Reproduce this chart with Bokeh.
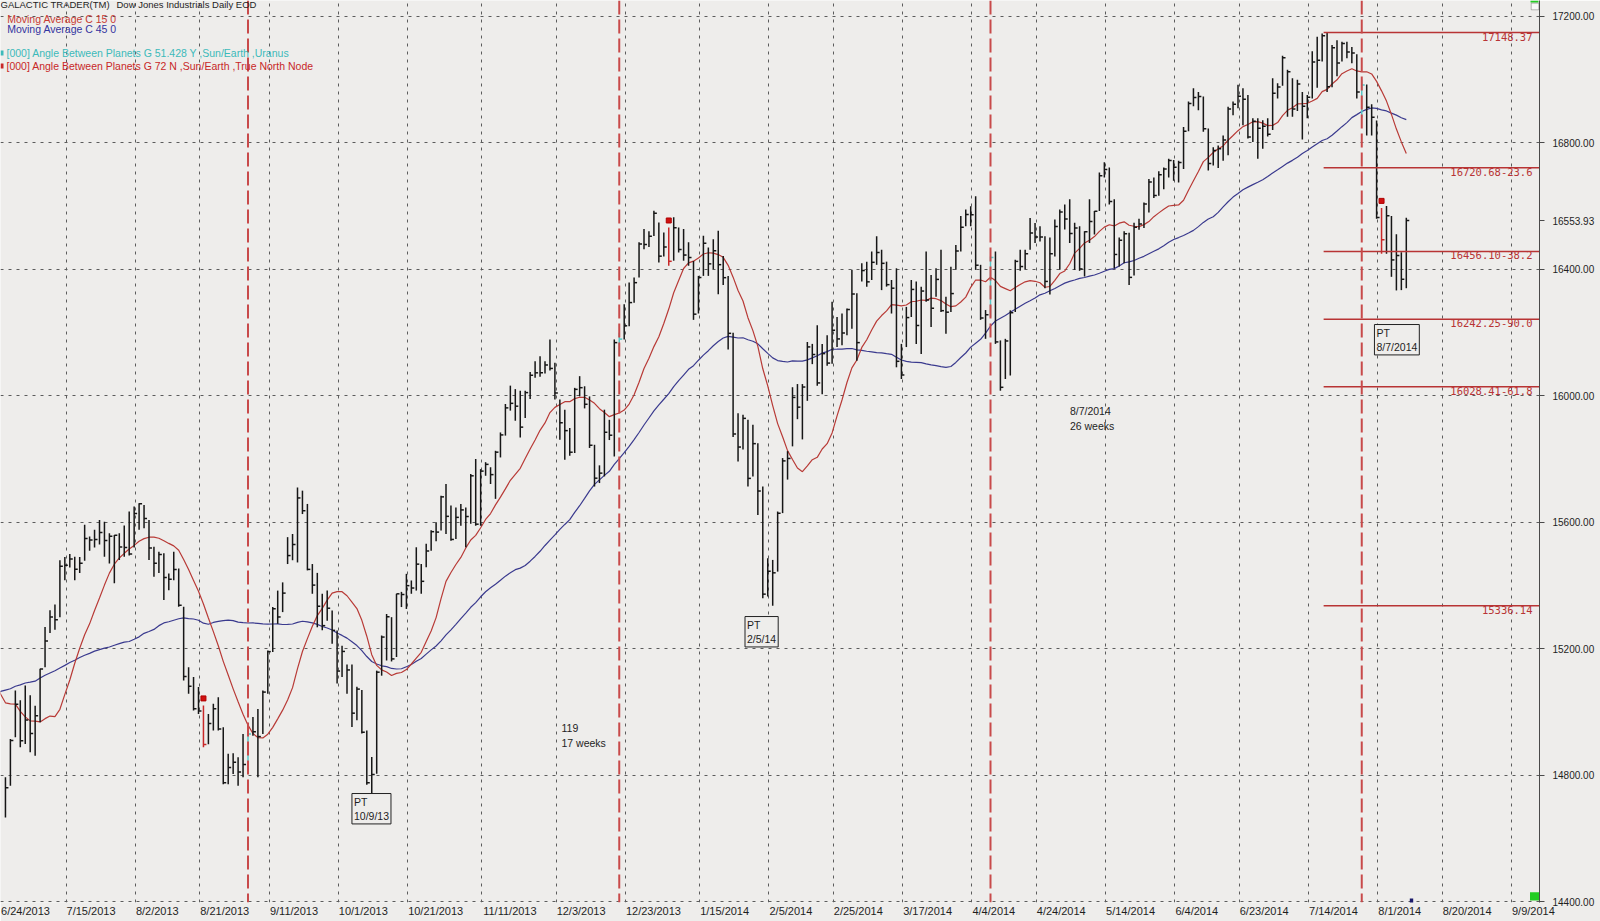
import numpy as np
import pandas as pd
from bokeh.plotting import figure
from bokeh.models import (ColumnDataSource, FixedTicker, Span, Label, Range1d,
                          BoxAnnotation, PrintfTickFormatter)
from bokeh.core.properties import value
from bokeh.embed import file_html
from bokeh.resources import INLINE

# ---------------- texts ----------------
title_left = "GALACTIC TRADER(TM)"
title_right = "Dow Jones Industrials Daily EOD"
legend_ma15 = "Moving Average C 15 0"
legend_ma45 = "Moving Average C 45 0"
legend_cyan = "[000] Angle Between Planets G 51.428 Y ,Sun/Earth ,Uranus"
legend_red = "[000] Angle Between Planets G 72 N ,Sun/Earth ,True North Node"

# ---------------- calendar ----------------
first_bar_date = "2013-06-25"
last_bar_date = "2014-08-08"
market_holidays = ["2013-07-04", "2013-09-02", "2013-11-28", "2013-12-25", "2014-01-01",
                   "2014-01-20", "2014-02-17", "2014-04-18", "2014-05-26", "2014-07-04"]

# closes before the first visible bar (2013-04-18 .. 2013-06-24), used by the moving averages
prior_close = [14537.14, 14547.51, 14567.17, 14719.46, 14676.30, 14700.80, 14712.55, 14818.75,
               14839.80, 14700.95, 14831.58, 14973.96, 14968.89, 15056.20, 15105.12, 15082.62,
               15118.49, 15091.68, 15215.25, 15275.69, 15233.22, 15354.40, 15335.28, 15387.58,
               15307.17, 15294.50, 15303.10, 15409.39, 15302.80, 15324.53, 15115.57, 15254.03,
               15177.54, 14960.59, 15040.62, 15248.12, 15238.59, 15122.02, 14995.23, 15176.08,
               15070.18, 15179.85, 15318.23, 15112.19, 14758.32, 14799.40, 14659.56]

# ---------------- daily bars 2013-06-25 .. 2013-12-31 ----------------
high_2013 = [14794, 14915, 15068, 15037, 15084, 15053, 15020, 15137, 15269, 15322, 15340, 15480, 15490,
             15500, 15491, 15490, 15592, 15555, 15576, 15607, 15602, 15565, 15560, 15565, 15590, 15634,
             15650, 15660, 15655, 15607, 15523, 15507, 15502, 15438, 15507, 15454, 15333, 15142, 15111,
             15079, 15021, 14994, 15026, 15047, 14952, 14868, 14870, 14857, 14931, 14942, 14984, 15010,
             15068, 15195, 15332, 15384, 15410, 15553, 15563, 15710, 15700, 15658, 15468, 15440, 15374,
             15384, 15321, 15258, 15210, 15150, 15150, 15080, 15070, 14942, 14858, 15131, 15242, 15310,
             15300, 15374, 15380, 15437, 15416, 15521, 15468, 15532, 15575, 15600, 15684, 15721, 15653,
             15647, 15658, 15647, 15753, 15800, 15768, 15790, 15774, 15826, 15884, 15974, 16032, 16021,
             16016, 16016, 16075, 16109, 16125, 16109, 16178, 16104, 15988, 15956, 15898, 16025, 16062,
             16030, 15998, 15845, 15780, 15956, 15924, 16178, 16199, 16289, 16358, 16374, 16485, 16527,
             16520, 16585]
low_2013 = [14667, 14767, 14920, 14889, 14899, 14873, 14862, 14968, 15142, 15250, 15260, 15300, 15417,
            15457, 15417, 15440, 15478, 15510, 15520, 15530, 15491, 15470, 15407, 15481, 15491, 15495,
            15520, 15576, 15581, 15481, 15428, 15440, 15354, 15385, 15417, 15333, 15100, 15058, 15005,
            14994, 14889, 14898, 14942, 14942, 14772, 14772, 14804, 14767, 14794, 14804, 14925, 14794,
            14931, 15058, 15190, 15279, 15316, 15468, 15480, 15473, 15626, 15448, 15374, 15268, 15259,
            15289, 15216, 15090, 15111, 15058, 14953, 14974, 14932, 14770, 14726, 14805, 15115, 15163,
            15160, 15174, 15332, 15326, 15374, 15384, 15374, 15458, 15510, 15540, 15574, 15563, 15542,
            15547, 15589, 15521, 15595, 15589, 15589, 15747, 15721, 15674, 15805, 15874, 15953, 15921,
            15868, 15930, 15990, 16057, 16060, 16070, 16080, 15988, 15861, 15798, 15810, 15819, 15998,
            15960, 15835, 15713, 15724, 15745, 15860, 15808, 16125, 16178, 16220, 16294, 16374, 16463,
            16470, 16505]
close_2013 = [14760.31, 14910.14, 15024.49, 14909.60, 14974.96, 14932.41, 14988.55, 15135.84, 15224.69,
              15300.34, 15291.66, 15460.92, 15464.30, 15484.26, 15451.85, 15470.52, 15548.54, 15543.74,
              15545.55, 15567.74, 15542.24, 15555.61, 15558.83, 15521.97, 15520.59, 15499.54, 15628.02,
              15658.36, 15612.13, 15518.74, 15470.67, 15498.32, 15425.51, 15419.68, 15451.01, 15337.66,
              15112.19, 15081.47, 15010.74, 15002.99, 14897.55, 14963.74, 15010.51, 14946.46, 14776.13,
              14824.51, 14840.95, 14810.31, 14833.96, 14930.87, 14937.48, 14922.50, 15063.12, 15191.06,
              15326.60, 15300.64, 15376.06, 15494.78, 15529.73, 15676.94, 15636.55, 15451.09, 15401.38,
              15334.59, 15273.26, 15328.30, 15258.24, 15129.67, 15191.70, 15133.14, 14996.48, 15072.58,
              14936.24, 14776.53, 14802.98, 15126.07, 15237.11, 15301.26, 15168.01, 15373.83, 15371.65,
              15399.65, 15392.20, 15467.66, 15413.33, 15509.21, 15570.28, 15568.93, 15680.35, 15618.76,
              15545.75, 15615.55, 15639.12, 15618.22, 15746.88, 15593.98, 15761.78, 15783.10, 15750.67,
              15821.63, 15876.22, 15961.70, 15976.02, 15967.03, 15900.82, 16009.99, 16064.77, 16072.54,
              16072.80, 16097.33, 16086.41, 16008.77, 15914.62, 15889.77, 15821.51, 16020.20, 16025.53,
              15973.13, 15843.53, 15739.43, 15755.36, 15884.57, 15875.26, 16167.97, 16179.08, 16221.14,
              16294.61, 16357.55, 16479.88, 16478.41, 16504.29, 16576.66]

# ---------------- daily bars 2014-01-02 .. 2014-08-08 ----------------
high_2014 = [16548, 16516, 16532, 16564, 16532, 16527, 16485, 16426, 16379, 16506, 16469, 16495, 16522,
             16442, 16379, 16199, 15945, 15940, 15924, 15908, 15850, 15713, 15486, 15481, 15634, 15803,
             15825, 16027, 16037, 16037, 16170, 16164, 16223, 16164, 16191, 16297, 16249, 16260, 16276,
             16398, 16324, 16419, 16424, 16456, 16504, 16462, 16424, 16366, 16403, 16164, 16281, 16366,
             16361, 16345, 16456, 16382, 16403, 16462, 16313, 16408, 16477, 16568, 16589, 16599, 16631,
             16414, 16271, 16440, 16456, 16175, 16180, 16270, 16430, 16462, 16462, 16562, 16546, 16536,
             16504, 16500, 16557, 16589, 16605, 16621, 16547, 16536, 16520, 16621, 16584, 16706, 16738,
             16722, 16621, 16500, 16520, 16515, 16547, 16560, 16611, 16685, 16690, 16710, 16722, 16749,
             16745, 16743, 16850, 16930, 16972, 16960, 16946, 16845, 16786, 16791, 16823, 16914, 16930,
             16983, 16972, 16951, 16877, 16877, 16871, 16877, 17004, 16988, 17075, 17031, 17004, 16999,
             16960, 16951, 17089, 17135, 17145, 17148.37, 17109, 17124, 17119, 17119, 17103, 17080,
             16999, 16984, 16922, 16870, 16594, 16600, 16568, 16511, 16454, 16563]
low_2014 = [16421, 16440, 16411, 16427, 16453, 16427, 16411, 16240, 16260, 16379, 16379, 16400, 16321,
            16350, 16146, 15870, 15792, 15830, 15713, 15745, 15623, 15360, 15365, 15336.14, 15444, 15629,
            15735, 15840, 15926, 15862, 15984, 16100, 16032, 16005, 16095, 16101, 16154, 16160, 16191,
            16212, 16111, 16361, 16345, 16366, 16414, 16334, 16345, 16260, 16090, 16053, 16154, 16249,
            16164, 16132, 16297, 16217, 16313, 16265, 16196, 16265, 16398, 16456, 16536, 16536, 16398,
            16240, 16180, 16249, 16164, 16016, 16053, 16064, 16265, 16395, 16400, 16462, 16483, 16488,
            16340, 16320, 16440, 16398, 16526, 16483, 16398, 16395, 16377, 16483, 16510, 16584, 16690,
            16605, 16403, 16409, 16419, 16350, 16380, 16525, 16530, 16579, 16625, 16632, 16653, 16690,
            16680, 16674, 16717, 16836, 16915, 16903, 16835, 16712, 16728, 16720, 16743, 16760, 16887,
            16909, 16855, 16813, 16802, 16749, 16781, 16820, 16840, 16940, 16980, 16882, 16882, 16900,
            16810, 16877, 16940, 16974, 17057, 16960, 16975, 17010, 17057, 17067, 17051, 16940, 16880,
            16823, 16823, 16560, 16449, 16449, 16376, 16333, 16334, 16340]
close_2014 = [16441.35, 16469.99, 16425.10, 16530.94, 16462.74, 16444.76, 16437.05, 16257.94, 16373.86,
              16481.94, 16417.01, 16458.56, 16414.44, 16373.34, 16197.35, 15879.11, 15837.88, 15928.56,
              15738.79, 15848.61, 15698.85, 15372.80, 15445.24, 15440.23, 15628.53, 15794.08, 15801.79,
              15994.77, 15963.94, 16027.59, 16154.39, 16130.40, 16040.56, 16133.23, 16103.30, 16207.14,
              16179.66, 16198.41, 16272.65, 16321.71, 16168.03, 16395.88, 16360.18, 16421.89, 16452.72,
              16418.68, 16351.25, 16340.08, 16108.89, 16065.67, 16247.22, 16336.19, 16222.17, 16331.05,
              16302.77, 16276.69, 16367.88, 16268.99, 16264.23, 16323.06, 16457.66, 16532.61, 16573.00,
              16572.55, 16412.71, 16245.87, 16256.14, 16437.18, 16170.22, 16026.75, 16173.24, 16262.56,
              16424.85, 16408.54, 16449.25, 16514.37, 16501.65, 16501.65, 16361.46, 16448.74, 16535.37,
              16580.84, 16558.87, 16512.89, 16530.55, 16401.02, 16518.54, 16550.97, 16583.34, 16695.47,
              16715.44, 16613.97, 16446.81, 16491.31, 16511.86, 16374.31, 16533.06, 16543.08, 16606.27,
              16675.50, 16633.18, 16698.74, 16717.17, 16743.63, 16722.34, 16737.53, 16836.11, 16924.28,
              16943.10, 16945.92, 16843.88, 16734.19, 16775.74, 16781.01, 16808.49, 16906.62, 16921.46,
              16947.08, 16937.26, 16818.13, 16867.51, 16846.13, 16851.84, 16826.60, 16956.07, 16976.24,
              17068.26, 17024.21, 16906.62, 16985.61, 16915.07, 16943.81, 17055.42, 17060.68, 17138.20,
              16976.81, 17100.18, 17051.73, 17113.54, 17086.63, 17083.80, 16960.57, 16982.59, 16912.11,
              16880.36, 16563.30, 16493.37, 16569.28, 16429.47, 16443.34, 16368.27, 16553.93]

# ---------------- events / levels ----------------
red_signal_dates = ["2013-08-21", "2014-01-06", "2014-08-01"]
cyan_signal_dates = ["2013-09-04", "2013-12-19", "2014-04-09", "2014-07-28"]
cycle_dates = ["2013-09-04", "2013-12-19", "2014-04-09", "2014-07-28"]
fib_levels = [17148.37, 16720.68, 16456.10, 16242.25, 16028.41, 15336.14]
fib_texts = ["17148.37", "16720.68-23.6", "16456.10-38.2", "16242.25-90.0", "16028.41-61.8", "15336.14"]
pt_dates = ["2013-10-09", "2014-02-05", "2014-08-07"]
pt_texts = ["PT\n10/9/13", "PT\n2/5/14", "PT\n8/7/2014"]
tick_dates = ["2013-06-24", "2013-07-15", "2013-08-02", "2013-08-21", "2013-09-11", "2013-10-01",
              "2013-10-21", "2013-11-11", "2013-12-03", "2013-12-23", "2014-01-15", "2014-02-05",
              "2014-02-25", "2014-03-17", "2014-04-04", "2014-04-24", "2014-05-14", "2014-06-04",
              "2014-06-23", "2014-07-14", "2014-08-01", "2014-08-20", "2014-09-09"]
price_grid = [14400, 14800, 15200, 15600, 16000, 16400, 16800, 17200]

# ---------------- build ----------------
highs = high_2013 + high_2014
lows = low_2013 + low_2014
closes = close_2013 + close_2014
n = len(closes)

hist = pd.bdate_range("2013-06-24", last_bar_date)
hist = hist[~hist.isin(pd.to_datetime(market_holidays))]
future = pd.bdate_range("2014-08-11", "2014-09-30")
cal = hist.append(future)
pos = {d.strftime("%Y-%m-%d"): i - 14 for i, d in enumerate(cal)}

start = pos[first_bar_date]
xb = np.arange(start, start + n)

BG = "#EEEDEB"
BAR = "#161616"
RED = "#C82828"
CYAN = "#55C6C6"
PPX = 4.95      # pixels per bar
PPY = 0.3163    # pixels per index point
X0 = -14.0
X1 = X0 + 1539 / PPX
Y1 = 17200 + 15.7 / PPY
Y0 = Y1 - 902 / PPY
AX_FONT = 11.0  # px, date labels

def px2x(px):
    return X0 + px / PPX

def py2y(py):
    return Y1 - py / PPY

colors = [BAR] * n
for d in cyan_signal_dates:
    colors[pos[d] - start] = CYAN
for d in red_signal_dates:
    colors[pos[d] - start] = RED

src = ColumnDataSource(dict(x=xb, xt=xb + 0.6, h=highs, l=lows, c=closes, col=colors))

all_close = pd.Series(prior_close + closes)
ma15 = all_close.rolling(15).mean().to_numpy()
ma45 = all_close.rolling(45).mean().to_numpy()
ma_x = np.arange(start - len(prior_close), start + n)

p = figure(width=1600, height=921, x_range=Range1d(X0, X1), y_range=Range1d(Y0, Y1),
           y_axis_location="right", output_backend="svg", toolbar_location=None,
           min_border_left=0, min_border_top=0, min_border_right=61, min_border_bottom=19,
           background_fill_color=BG, border_fill_color=BG)
p.outline_line_color = None

# x axis: grid at the date, label text starting at the date (labels are centred by bokeh,
# so the label tick is moved right by half the text width)
grid_pos = [max(pos[d] - 0.75, X0 + 0.01) for d in tick_dates]
label_pos = []
label_txt = {}
for gp, d in zip(grid_pos, tick_dates):
    dd = pd.Timestamp(d)
    txt = f"{dd.month}/{dd.day}/{dd.year}"
    w = sum(0.556 * AX_FONT if ch.isdigit() else 0.278 * AX_FONT for ch in txt)
    lp = round(gp + (w / 2 + 0.5) / PPX, 3)
    label_pos.append(lp)
    label_txt[lp] = txt
p.xaxis.ticker = FixedTicker(ticks=label_pos)
p.xaxis.major_label_overrides = label_txt
p.xaxis.axis_line_color = None
p.xaxis.major_tick_line_color = None
p.xaxis.minor_tick_line_color = None
p.xaxis.major_label_standoff = -4
p.xaxis.major_label_text_font = "Liberation Sans"
p.xaxis.major_label_text_font_size = f"{AX_FONT}px"
p.xaxis.major_label_text_color = "#1e1e1e"

p.yaxis.ticker = FixedTicker(ticks=price_grid + [closes[-1]])
p.yaxis.formatter = PrintfTickFormatter(format="%.2f")
p.yaxis.axis_line_color = "#4a4a4a"
p.yaxis.major_tick_line_color = "#4a4a4a"
p.yaxis.major_tick_out = 5
p.yaxis.major_tick_in = 0
p.yaxis.minor_tick_line_color = None
p.yaxis.major_label_standoff = 8
p.yaxis.major_label_text_font = "Liberation Sans"
p.yaxis.major_label_text_font_size = "10px"
p.yaxis.major_label_text_color = "#1e1e1e"

p.xgrid.ticker = FixedTicker(ticks=grid_pos[1:])
p.ygrid.ticker = FixedTicker(ticks=price_grid)
for g in (p.xgrid, p.ygrid):
    g.grid_line_color = "#5c5c5c"
    g.grid_line_dash = "3 5"
    g.grid_line_width = 1

# cycle lines
for d in cycle_dates:
    p.add_layout(Span(location=pos[d], dimension="height", line_color="#C84A4A",
                      line_width=2, line_dash="14 5"))

# moving averages
p.line(ma_x, ma45, line_color="#3A3A8E", line_width=1.2)
p.line(ma_x, ma15, line_color="#B83A36", line_width=1.2)

# bars
p.segment(x0="x", y0="l", x1="x", y1="h", line_color="col", line_width=1.5, source=src)
p.segment(x0="x", y0="c", x1="xt", y1="c", line_color="col", line_width=1.5, source=src)

# red signal markers
rx = [pos[d] for d in red_signal_dates]
ry = [highs[pos[d] - start] + 7 / PPY for d in red_signal_dates]
p.scatter(rx, ry, marker="square", size=5, fill_color="#D01010", line_color="#B00000")

# fib levels
hi_x = xb[int(np.argmax(highs))] - 0.7
p.segment(x0=[hi_x] * len(fib_levels), x1=[X1] * len(fib_levels), y0=fib_levels, y1=fib_levels,
          line_color="#B83434", line_width=1.5)
p.text(x=[px2x(1532)] * len(fib_levels), y=fib_levels, text=fib_texts,
       text_align="right", text_baseline="top", text_color="#B83434",
       text_font=value("DejaVu Sans Mono"), text_font_size="10.5px")

# PT boxes (offsets in pixels from the date's low)
pt_off = [(-19.8, 5.2), (-27.7, -10.8), (-26.9, -34.4)]
for d, t, (dx, dy) in zip(pt_dates, pt_texts, pt_off):
    i = pos[d]
    p.add_layout(Label(x=i + dx / PPX, y=lows[i - start] + dy / PPY, text=t,
                       text_align="left", text_baseline="top", text_font="Liberation Sans",
                       text_font_size="10.5px", text_color="#1e1e1e", text_line_height=1.2,
                       background_fill_color=BG, background_fill_alpha=1.0,
                       border_line_color="#222222", border_line_width=1, padding=2))

def note(text, px, py, color, size="10.5px", baseline="alphabetic", font="Liberation Sans"):
    p.add_layout(Label(x=px2x(px), y=py2y(py), text=text, text_color=color,
                       text_font=font, text_font_size=size, text_align="left",
                       text_baseline=baseline, text_line_height=1.3))

note(title_left, 0, 4, "#1e1e1e", size="9.5px")
note(title_right, 116, 4, "#1e1e1e", size="9.5px")
note(legend_ma15, 6.7, 18.8, "#C83A32")
note(legend_ma45, 6.7, 28.8, "#3434A0")
note(legend_cyan, 6, 52.5, "#3CBABA")
note(legend_red, 6, 65.5, "#C82828")
note("119\n17 weeks", 561, 721, "#1e1e1e", baseline="top")
note("8/7/2014\n26 weeks", 1069.4, 404, "#1e1e1e", baseline="top")

p.add_layout(BoxAnnotation(left=px2x(0), right=px2x(3), top=py2y(50), bottom=py2y(55),
                           fill_color="#3CBABA", fill_alpha=1, line_color=None))
p.add_layout(BoxAnnotation(left=px2x(0), right=px2x(3), top=py2y(63), bottom=py2y(68),
                           fill_color="#C82828", fill_alpha=1, line_color=None))
# small status marks drawn by the charting program
p.add_layout(BoxAnnotation(left=px2x(1530), right=px2x(1538), top=py2y(0), bottom=py2y(2),
                           fill_color="#22CC22", fill_alpha=1, line_color=None))
p.add_layout(BoxAnnotation(left=px2x(1530.7), right=px2x(1538.3), top=py2y(2.7), bottom=py2y(9.3),
                           fill_color="#F8F8F8", fill_alpha=1, line_color="#222222", line_width=1))
p.add_layout(BoxAnnotation(left=px2x(1529.5), right=px2x(1538.5), top=py2y(891.7), bottom=py2y(900),
                           fill_color="#22CC22", fill_alpha=1, line_color=None))
p.add_layout(BoxAnnotation(left=px2x(1409.3), right=px2x(1412.7), top=py2y(898), bottom=py2y(903),
                           fill_color="#1A1A6A", fill_alpha=1, line_color=None))

open("out.html", "w").write(file_html(p, INLINE))
